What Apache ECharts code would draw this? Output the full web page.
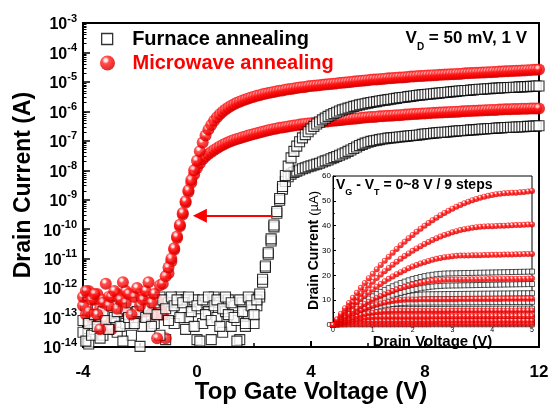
<!DOCTYPE html>
<html>
<head>
<meta charset="utf-8">
<script src="https://cdn.jsdelivr.net/npm/echarts@6.0.0/dist/echarts.min.js"></script>
<style>
html,body{margin:0;padding:0;background:#fff}
#chart{width:549px;height:405px}
</style>
</head>
<body>
<div id="chart"></div>
<script>
// ---- Transfer curves: top gate sweep (V) and log10 of drain current (A) ----
const gateV = [
-4,-3.9,-3.8,-3.7,-3.6,-3.5,-3.4,-3.3,-3.2,-3.1,
-3,-2.9,-2.8,-2.7,-2.6,-2.5,-2.4,-2.3,-2.2,-2.1,
-2,-1.9,-1.8,-1.7,-1.6,-1.5,-1.4,-1.3,-1.2,-1.1,
-1,-0.9,-0.8,-0.7,-0.6,-0.5,-0.4,-0.3,-0.2,-0.1,
0,0.1,0.2,0.3,0.4,0.5,0.6,0.7,0.8,0.9,
1,1.1,1.2,1.3,1.4,1.5,1.6,1.7,1.8,1.9,
2,2.1,2.2,2.3,2.4,2.5,2.6,2.7,2.8,2.9,
3,3.1,3.2,3.3,3.4,3.5,3.6,3.7,3.8,3.9,
4,4.1,4.2,4.3,4.4,4.5,4.6,4.7,4.8,4.9,
5,5.1,5.2,5.3,5.4,5.5,5.6,5.7,5.8,5.9,
6,6.1,6.2,6.3,6.4,6.5,6.6,6.7,6.8,6.9,
7,7.1,7.2,7.3,7.4,7.5,7.6,7.7,7.8,7.9,
8,8.1,8.2,8.3,8.4,8.5,8.6,8.7,8.8,8.9,
9,9.1,9.2,9.3,9.4,9.5,9.6,9.7,9.8,9.9,
10,10.1,10.2,10.3,10.4,10.5,10.6,10.7,10.8,10.9,
11,11.1,11.2,11.3,11.4,11.5,11.6,11.7,11.8,11.9,
12];

// microwave annealed, VD = 1 V
const logId_mw1V = [
-12.3,-12.1,-12.8,-12.4,-12.2,-12.9,-13.4,-12.5,-11.85,-12.6,
-12.3,-12.1,-12.7,-12.4,-11.8,-12.5,-12.2,-12.9,-12.3,-12.0,
-12.6,-12.4,-12.1,-11.8,-12.5,-12.2,-13.7,-11.9,-11.85,-11.6,
-11.3,-11.0,-10.65,-10.25,-9.85,-9.45,-9.05,-8.68,-8.33,-8.0,
-7.68,-7.35,-7.06,-6.82,-6.62,-6.46,-6.32,-6.2,-6.1,-6.01,
-5.94,-5.87,-5.81,-5.76,-5.71,-5.67,-5.63,-5.6,-5.56,-5.53,
-5.5,-5.47,-5.45,-5.42,-5.4,-5.38,-5.36,-5.34,-5.32,-5.3,
-5.29,-5.27,-5.25,-5.24,-5.22,-5.21,-5.19,-5.18,-5.17,-5.15,
-5.14,-5.13,-5.12,-5.11,-5.1,-5.09,-5.08,-5.07,-5.06,-5.05,
-5.04,-5.03,-5.02,-5.01,-5.0,-4.99,-4.98,-4.97,-4.96,-4.95,
-4.94,-4.93,-4.92,-4.92,-4.91,-4.9,-4.89,-4.88,-4.88,-4.87,
-4.86,-4.85,-4.85,-4.84,-4.83,-4.82,-4.82,-4.81,-4.8,-4.8,
-4.79,-4.78,-4.78,-4.77,-4.77,-4.76,-4.76,-4.75,-4.75,-4.74,
-4.74,-4.73,-4.73,-4.72,-4.71,-4.71,-4.7,-4.7,-4.69,-4.69,
-4.68,-4.68,-4.67,-4.67,-4.66,-4.66,-4.65,-4.65,-4.64,-4.64,
-4.63,-4.63,-4.62,-4.62,-4.61,-4.61,-4.6,-4.6,-4.59,-4.59,
-4.58];

// microwave annealed, VD = 50 mV
const logId_mw50mV = [
-12.6,-12.9,-12.1,-13.0,-12.4,-12.2,-12.7,-12.4,-13.1,-12.3,
-13.4,-12.6,-12.2,-12.8,-12.4,-12.1,-12.7,-12.3,-12.6,-12.9,
-12.2,-12.5,-12.8,-12.3,-12.6,-12.9,-12.4,-12.7,-12.9,-13.7,
-11.5,-11.1,-10.7,-10.3,-9.9,-9.5,-9.1,-8.74,-8.42,-8.14,
-7.92,-7.76,-7.63,-7.53,-7.45,-7.38,-7.31,-7.25,-7.19,-7.14,
-7.09,-7.05,-7.01,-6.97,-6.94,-6.91,-6.88,-6.85,-6.82,-6.79,
-6.77,-6.74,-6.72,-6.69,-6.67,-6.64,-6.62,-6.6,-6.58,-6.56,
-6.55,-6.53,-6.51,-6.5,-6.48,-6.47,-6.45,-6.44,-6.42,-6.41,
-6.4,-6.39,-6.38,-6.37,-6.36,-6.35,-6.34,-6.33,-6.32,-6.31,
-6.3,-6.29,-6.28,-6.27,-6.26,-6.25,-6.24,-6.23,-6.22,-6.21,
-6.2,-6.19,-6.19,-6.18,-6.17,-6.17,-6.16,-6.15,-6.15,-6.14,
-6.13,-6.13,-6.12,-6.11,-6.11,-6.1,-6.09,-6.09,-6.08,-6.07,
-6.07,-6.06,-6.06,-6.05,-6.05,-6.04,-6.04,-6.03,-6.03,-6.02,
-6.02,-6.01,-6.01,-6.0,-6.0,-5.99,-5.99,-5.98,-5.98,-5.97,
-5.97,-5.96,-5.96,-5.95,-5.95,-5.95,-5.94,-5.94,-5.93,-5.93,
-5.93,-5.92,-5.92,-5.92,-5.91,-5.91,-5.91,-5.9,-5.9,-5.9,
-5.9];

// furnace annealed, VD = 1 V
const logId_fu1V = [
-13.5,-13.8,-13.2,-13.6,-12.9,-13.3,-13.7,-12.8,-13.1,-13.4,
-12.6,-13.0,-12.8,-13.3,-13.8,-12.7,-13.0,-12.5,-13.2,-12.8,
-13.98,-12.6,-13.0,-12.7,-13.3,-12.5,-12.9,-13.6,-12.4,-12.7,
-13.1,-12.3,-12.6,-12.4,-13.0,-12.5,-13.4,-12.3,-12.8,-13.3,
-12.6,-13.8,-12.4,-12.9,-12.3,-13.1,-12.6,-12.4,-13.3,-12.7,
-12.3,-12.9,-12.5,-13.0,-13.8,-12.4,-12.8,-13.2,-12.3,-12.6,
-12.9,-12.4,-12.2,-11.7,-11.25,-10.8,-10.33,-9.86,-9.4,-8.96,
-8.55,-8.18,-7.86,-7.58,-7.36,-7.18,-7.03,-6.9,-6.79,-6.69,
-6.6,-6.51,-6.43,-6.36,-6.29,-6.23,-6.17,-6.12,-6.07,-6.03,
-5.99,-5.95,-5.92,-5.89,-5.86,-5.83,-5.81,-5.78,-5.76,-5.74,
-5.72,-5.7,-5.68,-5.67,-5.65,-5.63,-5.62,-5.6,-5.59,-5.57,
-5.56,-5.54,-5.53,-5.52,-5.5,-5.49,-5.48,-5.46,-5.45,-5.44,
-5.43,-5.42,-5.41,-5.4,-5.39,-5.38,-5.37,-5.36,-5.35,-5.34,
-5.33,-5.32,-5.31,-5.3,-5.29,-5.29,-5.28,-5.27,-5.26,-5.25,
-5.25,-5.24,-5.23,-5.23,-5.22,-5.21,-5.21,-5.2,-5.2,-5.19,
-5.19,-5.18,-5.18,-5.17,-5.17,-5.16,-5.16,-5.15,-5.15,-5.14,
-5.14];

// furnace annealed, VD = 50 mV
const logId_fu50mV = [
-13.1,-12.6,-13.9,-12.9,-13.4,-12.7,-13.0,-13.6,-12.6,-12.9,
-13.2,-12.5,-13.5,-12.8,-12.6,-13.2,-12.9,-13.6,-12.7,-13.0,
-12.5,-13.3,-12.8,-12.4,-12.9,-13.2,-12.6,-12.3,-12.9,-13.75,
-12.5,-12.8,-13.2,-12.5,-12.3,-12.7,-12.4,-13.0,-12.5,-12.4,
-13.75,-12.7,-13.2,-12.5,-12.8,-13.75,-12.3,-13.0,-12.5,-13.5,
-12.8,-12.4,-13.3,-12.6,-13.1,-13.75,-12.5,-13.3,-12.9,-12.4,
-13.2,-12.6,-12.3,-11.8,-11.3,-10.85,-10.4,-9.92,-9.46,-9.02,
-8.64,-8.38,-8.22,-8.13,-8.07,-8.03,-7.99,-7.95,-7.92,-7.88,
-7.85,-7.82,-7.79,-7.76,-7.72,-7.68,-7.65,-7.61,-7.57,-7.53,
-7.49,-7.45,-7.41,-7.36,-7.31,-7.26,-7.21,-7.16,-7.12,-7.08,
-7.05,-7.02,-7.0,-6.98,-6.96,-6.94,-6.93,-6.91,-6.9,-6.89,
-6.88,-6.87,-6.86,-6.85,-6.84,-6.83,-6.82,-6.81,-6.8,-6.78,
-6.77,-6.76,-6.75,-6.74,-6.73,-6.72,-6.71,-6.71,-6.7,-6.69,
-6.68,-6.67,-6.66,-6.66,-6.65,-6.64,-6.63,-6.63,-6.62,-6.61,
-6.6,-6.6,-6.59,-6.58,-6.58,-6.57,-6.56,-6.56,-6.55,-6.55,
-6.54,-6.54,-6.53,-6.53,-6.52,-6.52,-6.51,-6.51,-6.5,-6.5,
-6.49];

// ---- Output curves (inset): drain voltage (V) and drain current (µA) ----
const drainV = [
0,0.1,0.2,0.3,0.4,0.5,0.6,0.7,0.8,0.9,
1,1.1,1.2,1.3,1.4,1.5,1.6,1.7,1.8,1.9,
2,2.1,2.2,2.3,2.4,2.5,2.6,2.7,2.8,2.9,
3,3.1,3.2,3.3,3.4,3.5,3.6,3.7,3.8,3.9,
4,4.1,4.2,4.3,4.4,4.5,4.6,4.7,4.8,4.9,
5];

// microwave annealed, VG - VT = 8 ... 0 V
const mwOut8V = [0,2.29,4.54,6.73,8.87,10.96,12.99,14.99,16.93,18.82,20.65,22.44,24.18,25.87,27.5,29.09,30.63,32.12,33.55,34.93,36.27,37.55,38.79,39.98,41.11,42.19,43.23,44.21,45.14,46.02,46.85,47.63,48.36,49.04,49.67,50.25,50.78,51.26,51.69,52.06,52.39,52.67,52.9,53.07,53.2,53.27,53.3,53.45,53.6,53.8,54.0];
const mwOut7V = [0,1.97,3.88,5.75,7.56,9.33,11.04,12.71,14.33,15.9,17.41,18.88,20.3,21.67,22.98,24.25,25.47,26.64,27.76,28.83,29.85,30.82,31.74,32.61,33.43,34.2,34.92,35.6,36.22,36.79,37.31,37.79,38.21,38.58,38.9,39.18,39.4,39.58,39.7,39.78,39.8,39.87,39.94,40.01,40.08,40.15,40.22,40.29,40.36,40.43,40.5];
const mwOut6V = [0,1.65,3.26,4.81,6.32,7.77,9.17,10.53,11.83,13.08,14.28,15.43,16.53,17.58,18.58,19.53,20.43,21.28,22.08,22.82,23.52,24.17,24.76,25.31,25.8,26.25,26.64,26.99,27.28,27.53,27.72,27.86,27.96,28.0,28.02,28.06,28.1,28.13,28.17,28.21,28.25,28.28,28.32,28.36,28.4,28.43,28.47,28.51,28.55,28.58,28.6];
const mwOut5V = [0,1.2,2.36,3.48,4.55,5.59,6.59,7.54,8.46,9.33,10.17,10.96,11.71,12.42,13.1,13.73,14.31,14.86,15.37,15.84,16.27,16.65,17.0,17.3,17.57,17.79,17.97,18.12,18.22,18.28,18.3,18.32,18.34,18.36,18.38,18.4,18.42,18.44,18.46,18.48,18.5,18.52,18.54,18.56,18.58,18.6,18.62,18.64,18.66,18.68,18.7];
const mwOut4V = [0,1.0,1.96,2.86,3.71,4.51,5.25,5.95,6.59,7.18,7.73,8.21,8.65,9.04,9.37,9.66,9.89,10.07,10.2,10.27,10.3,10.31,10.32,10.33,10.34,10.35,10.36,10.37,10.38,10.39,10.4,10.41,10.42,10.43,10.44,10.45,10.46,10.47,10.48,10.49,10.5,10.51,10.52,10.53,10.54,10.55,10.56,10.57,10.58,10.59,10.6];
const mwOut3V = [0,0.72,1.39,2.02,2.59,3.11,3.58,4.01,4.38,4.7,4.98,5.2,5.38,5.5,5.58,5.6,5.61,5.61,5.62,5.62,5.63,5.63,5.64,5.65,5.65,5.66,5.66,5.67,5.68,5.68,5.69,5.69,5.7,5.71,5.71,5.72,5.72,5.73,5.74,5.74,5.75,5.75,5.76,5.77,5.77,5.78,5.78,5.79,5.79,5.8,5.8];
const mwOut2V = [0,0.53,1.01,1.44,1.83,2.18,2.48,2.73,2.93,3.09,3.21,3.28,3.3,3.31,3.31,3.32,3.32,3.33,3.34,3.34,3.35,3.35,3.36,3.37,3.37,3.38,3.38,3.39,3.4,3.4,3.41,3.41,3.42,3.43,3.43,3.44,3.44,3.45,3.46,3.46,3.47,3.47,3.48,3.48,3.49,3.49,3.49,3.5,3.5,3.5,3.5];
const mwOut1V = [0,0.38,0.7,0.98,1.2,1.38,1.5,1.58,1.6,1.6,1.61,1.61,1.62,1.62,1.62,1.63,1.63,1.63,1.64,1.64,1.64,1.65,1.65,1.65,1.66,1.66,1.66,1.67,1.67,1.67,1.67,1.68,1.68,1.68,1.68,1.69,1.69,1.69,1.69,1.69,1.7,1.7,1.7,1.7,1.7,1.7,1.7,1.7,1.7,1.7,1.7];
const mwOut0V = [0,0.14,0.26,0.34,0.38,0.4,0.4,0.41,0.41,0.41,0.42,0.42,0.42,0.43,0.43,0.43,0.43,0.44,0.44,0.44,0.44,0.45,0.45,0.45,0.45,0.46,0.46,0.46,0.46,0.47,0.47,0.47,0.47,0.48,0.48,0.48,0.48,0.48,0.49,0.49,0.49,0.49,0.49,0.5,0.5,0.5,0.5,0.5,0.5,0.5,0.5];

// furnace annealed, VG - VT = 8 ... 0 V
const fuOut8V = [0,1.36,2.68,3.95,5.18,6.36,7.49,8.57,9.61,10.61,11.56,12.46,13.31,14.12,14.88,15.6,16.27,16.89,17.47,18.0,18.49,18.93,19.32,19.67,19.97,20.22,20.43,20.59,20.71,20.78,20.8,20.84,20.87,20.91,20.94,20.98,21.01,21.05,21.08,21.12,21.15,21.19,21.22,21.26,21.29,21.33,21.36,21.4,21.43,21.47,21.5];
const fuOut7V = [0,1.04,2.05,3.02,3.96,4.86,5.72,6.55,7.35,8.11,8.83,9.52,10.18,10.79,11.38,11.93,12.44,12.91,13.36,13.76,14.13,14.47,14.77,15.04,15.26,15.46,15.62,15.74,15.83,15.88,15.9,15.93,15.96,15.99,16.02,16.05,16.08,16.11,16.14,16.17,16.2,16.23,16.26,16.29,16.32,16.35,16.38,16.41,16.44,16.47,16.5];
const fuOut6V = [0,0.97,1.9,2.8,3.65,4.46,5.24,5.97,6.67,7.32,7.94,8.51,9.05,9.54,10.0,10.42,10.79,11.13,11.43,11.69,11.9,12.08,12.22,12.32,12.38,12.4,12.42,12.43,12.45,12.46,12.48,12.5,12.51,12.53,12.54,12.56,12.58,12.59,12.61,12.62,12.64,12.66,12.67,12.69,12.7,12.72,12.74,12.75,12.77,12.78,12.8];
const fuOut5V = [0,0.88,1.71,2.5,3.24,3.94,4.59,5.2,5.76,6.28,6.75,7.18,7.56,7.9,8.19,8.44,8.64,8.8,8.91,8.98,9.0,9.01,9.02,9.03,9.04,9.05,9.06,9.07,9.08,9.09,9.1,9.11,9.12,9.13,9.14,9.15,9.16,9.17,9.18,9.19,9.2,9.21,9.22,9.23,9.24,9.25,9.26,9.27,9.28,9.29,9.3];
const fuOut4V = [0,0.82,1.59,2.3,2.96,3.56,4.1,4.58,5.01,5.38,5.69,5.94,6.14,6.29,6.37,6.4,6.41,6.41,6.42,6.42,6.43,6.44,6.44,6.45,6.45,6.46,6.47,6.47,6.48,6.48,6.49,6.5,6.5,6.51,6.51,6.52,6.53,6.53,6.54,6.54,6.55,6.56,6.56,6.57,6.57,6.58,6.59,6.59,6.6,6.6,6.6];
const fuOut3V = [0,0.67,1.28,1.84,2.33,2.77,3.15,3.47,3.73,3.94,4.08,4.17,4.2,4.21,4.21,4.22,4.22,4.23,4.24,4.24,4.25,4.25,4.26,4.27,4.27,4.28,4.28,4.29,4.3,4.3,4.31,4.31,4.32,4.33,4.33,4.34,4.34,4.35,4.36,4.36,4.37,4.37,4.38,4.38,4.39,4.39,4.39,4.4,4.4,4.4,4.4];
const fuOut2V = [0,0.59,1.09,1.52,1.88,2.15,2.34,2.46,2.5,2.5,2.51,2.51,2.52,2.52,2.52,2.53,2.53,2.53,2.54,2.54,2.54,2.55,2.55,2.55,2.56,2.56,2.56,2.57,2.57,2.57,2.57,2.58,2.58,2.58,2.58,2.59,2.59,2.59,2.59,2.59,2.6,2.6,2.6,2.6,2.6,2.6,2.6,2.6,2.6,2.6,2.6];
const fuOut1V = [0,0.41,0.74,0.97,1.1,1.15,1.15,1.15,1.16,1.16,1.16,1.16,1.16,1.17,1.17,1.17,1.17,1.17,1.17,1.18,1.18,1.18,1.18,1.18,1.18,1.18,1.19,1.19,1.19,1.19,1.19,1.19,1.19,1.19,1.2,1.2,1.2,1.2,1.2,1.2,1.2,1.2,1.2,1.2,1.2,1.2,1.2,1.2,1.2,1.2,1.2];
const fuOut0V = [0,0.14,0.22,0.25,0.25,0.26,0.26,0.26,0.26,0.26,0.27,0.27,0.27,0.27,0.27,0.27,0.27,0.28,0.28,0.28,0.28,0.28,0.28,0.28,0.28,0.29,0.29,0.29,0.29,0.29,0.29,0.29,0.29,0.29,0.3,0.3,0.3,0.3,0.3,0.3,0.3,0.3,0.3,0.3,0.3,0.3,0.3,0.3,0.3,0.3,0.3];

// Arrow marking the threshold shift (gate V, log10 I)
const shiftArrow = [[2.65, -9.54], [0.1, -9.54]];

// ---------------------------------------------------------------------------
const FONT = '"Liberation Sans", Arial, Helvetica, sans-serif';
const chart = echarts.init(document.getElementById('chart'), null, {renderer: 'canvas'});

const zip = (xs, ys) => xs.map((x, i) => [x, ys[i]]);

// shaded red sphere used as the microwave marker
const sphere = () => new echarts.graphic.RadialGradient(0.38, 0.32, 0.62, [
  {offset: 0, color: '#ffffff'},
  {offset: 0.16, color: '#ffe0e0'},
  {offset: 0.38, color: '#ff2424'},
  {offset: 0.8, color: '#f50000'},
  {offset: 1, color: '#d00000'}
]);
const openSquare = {color: '#fff', borderColor: '#000', borderWidth: 1.1};

// minor tick positions of a base-10 log scale (decades -14 .. -3)
const logMinor = [];
for (let n = -14; n < -3; n++) {
  for (let k = 2; k <= 9; k++) logMinor.push(n + Math.log10(k));
}

const black = '#000';
const bold = {fontFamily: FONT, fontWeight: 'bold', color: black};

const mainSeries = [
  {id: 'fu50', name: 'Furnace annealing', data: zip(gateV, logId_fu50mV), furnace: true},
  {id: 'mw50', name: 'Microwave annealing', data: zip(gateV, logId_mw50mV), furnace: false},
  {id: 'fu1', name: 'Furnace annealing', data: zip(gateV, logId_fu1V), furnace: true},
  {id: 'mw1', name: 'Microwave annealing', data: zip(gateV, logId_mw1V), furnace: false}
].map(s => ({
  id: s.id,
  name: s.name,
  type: 'scatter',
  xAxisIndex: 0,
  yAxisIndex: 0,
  data: s.data,
  symbol: s.furnace ? 'rect' : 'circle',
  symbolSize: s.furnace ? 10 : 12,
  itemStyle: s.furnace ? openSquare : {color: sphere()},
  emphasis: {disabled: true},
  z: 3
}));

mainSeries[3].markLine = {
  silent: true,
  animation: false,
  symbol: ['none', 'triangle'],
  symbolSize: 14,
  label: {show: false},
  lineStyle: {type: 'solid', color: '#ff0000', width: 2},
  itemStyle: {color: '#ff0000'},
  data: [[{coord: shiftArrow[0]}, {coord: shiftArrow[1]}]]
};

const fuOut = [fuOut0V, fuOut1V, fuOut2V, fuOut3V, fuOut4V, fuOut5V, fuOut6V, fuOut7V, fuOut8V];
const mwOut = [mwOut0V, mwOut1V, mwOut2V, mwOut3V, mwOut4V, mwOut5V, mwOut6V, mwOut7V, mwOut8V];

const insetSeries = [];
fuOut.forEach((curve, i) => insetSeries.push({
  name: 'furnace output ' + i, type: 'scatter', xAxisIndex: 1, yAxisIndex: 2,
  data: zip(drainV, curve), symbol: 'rect', symbolSize: 5,
  itemStyle: {color: '#fff', borderColor: '#000', borderWidth: 0.8},
  emphasis: {disabled: true}, z: 4
}));
mwOut.forEach((curve, i) => insetSeries.push({
  name: 'microwave output ' + i, type: 'scatter', xAxisIndex: 1, yAxisIndex: 2,
  data: zip(drainV, curve), symbol: 'circle', symbolSize: 6,
  itemStyle: {color: sphere()},
  emphasis: {disabled: true}, z: 5
}));

const option = {
  animation: false,
  backgroundColor: '#fff',
  textStyle: {fontFamily: FONT},
  title: [
    {
      text: '{v|V}{s|D}{v| = 50 mV, 1 V}',
      right: 22, top: 30, padding: 0,
      textStyle: {rich: {
        v: {...bold, fontSize: 17, verticalAlign: 'top'},
        s: {...bold, fontSize: 10, verticalAlign: 'top', padding: [12, 0, 0, 0]}
      }}
    },
    {
      text: '{v|V}{s|G}{v| - V}{s|T}{v| = 0~8 V / 9 steps}',
      left: 336, top: 178, padding: 0, z: 10,
      textStyle: {rich: {
        v: {...bold, fontSize: 14, verticalAlign: 'top'},
        s: {...bold, fontSize: 9, verticalAlign: 'top', padding: [10, 0, 0, 0]}
      }}
    }
  ],
  legend: [
    {
      data: [{name: 'Furnace annealing', icon: 'path://M0,0H10V10H0Z',
              itemStyle: {color: '#fff', borderColor: '#000', borderWidth: 1.3}}],
      left: 101, top: 29, padding: 0, itemWidth: 40, itemHeight: 11,
      selectedMode: false,
      textStyle: {...bold, fontSize: 20}
    },
    {
      data: [{name: 'Microwave annealing', icon: 'circle',
              itemStyle: {color: sphere(), borderWidth: 0}}],
      left: 100, top: 53, padding: 0, itemWidth: 40, itemHeight: 15,
      selectedMode: false,
      textStyle: {...bold, fontSize: 20, color: '#ff0000'}
    }
  ],
  grid: [
    {left: 83, right: 10, top: 23, bottom: 58, show: true, borderColor: black, borderWidth: 2,
     containLabel: false, outerBoundsMode: 'none'},
    {left: 333, right: 17, top: 176, bottom: 80, show: true, borderColor: black, borderWidth: 1,
     backgroundColor: '#fff', containLabel: false, outerBoundsMode: 'none'}
  ],
  xAxis: [
    {
      type: 'value', gridIndex: 0, min: -4, max: 12, interval: 4,
      axisLine: {show: true, onZero: false, lineStyle: {color: black, width: 2}},
      axisTick: {show: true, inside: true, length: 6, lineStyle: {color: black, width: 2}},
      minorTick: {show: true, splitNumber: 2, length: 4, lineStyle: {color: black, width: 1.5}},
      splitLine: {show: false},
      axisLabel: {...bold, fontSize: 17, margin: 17},
      name: 'Top Gate Voltage (V)', nameLocation: 'middle', nameGap: 33, nameMoveOverlap: false,
      nameTextStyle: {...bold, fontSize: 24}
    },
    {
      type: 'value', gridIndex: 1, min: 0, max: 5, interval: 1,
      axisLine: {show: true, onZero: false, lineStyle: {color: black, width: 1}},
      axisTick: {show: true, inside: true, length: 3, lineStyle: {color: black, width: 1}},
      minorTick: {show: true, splitNumber: 2, length: 2, lineStyle: {color: black, width: 0.8}},
      splitLine: {show: false},
      axisLabel: {fontFamily: FONT, color: black, fontSize: 7, margin: 2},
      name: 'Drain Voltage (V)', nameLocation: 'middle', nameGap: 9, nameMoveOverlap: false,
      nameTextStyle: {...bold, fontSize: 15}
    }
  ],
  yAxis: [
    {
      type: 'value', gridIndex: 0, min: -14, max: -3, interval: 1, position: 'left',
      axisLine: {show: true, onZero: false, lineStyle: {color: black, width: 2}},
      axisTick: {show: true, inside: true, length: 7, lineStyle: {color: black, width: 1.5}},
      splitLine: {show: false},
      axisLabel: {
        margin: 6,
        formatter: v => '{b|10}{s|' + v + '}',
        rich: {
          b: {...bold, fontSize: 16, verticalAlign: 'bottom'},
          s: {...bold, fontSize: 11, verticalAlign: 'bottom', padding: [0, 0, 9, 0]}
        }
      },
      name: 'Drain Current (A)', nameLocation: 'middle', nameRotate: 90, nameGap: 48,
      nameMoveOverlap: false,
      nameTextStyle: {...bold, fontSize: 23}
    },
    {
      type: 'value', gridIndex: 0, min: -14, max: -3, interval: 1, position: 'left',
      axisLine: {show: false, onZero: false},
      axisLabel: {show: false},
      splitLine: {show: false},
      axisTick: {show: true, inside: true, length: 3.5, customValues: logMinor,
                 lineStyle: {color: black, width: 1}}
    },
    {
      type: 'value', gridIndex: 1, min: 0, max: 60, interval: 10, position: 'left',
      axisLine: {show: true, onZero: false, lineStyle: {color: black, width: 1}},
      axisTick: {show: true, inside: true, length: 3, lineStyle: {color: black, width: 1}},
      minorTick: {show: true, splitNumber: 2, length: 2, lineStyle: {color: black, width: 0.8}},
      splitLine: {show: false},
      axisLabel: {fontFamily: FONT, color: black, fontSize: 8, margin: 2},
      name: '{n|Drain Current }{u|(µA)}', nameLocation: 'middle', nameRotate: 90, nameGap: 12,
      nameMoveOverlap: false,
      nameTextStyle: {rich: {
        n: {...bold, fontSize: 14},
        u: {fontFamily: FONT, color: black, fontSize: 13}
      }}
    }
  ],
  series: mainSeries.concat(insetSeries)
};

chart.setOption(option);
</script>
</body>
</html>
